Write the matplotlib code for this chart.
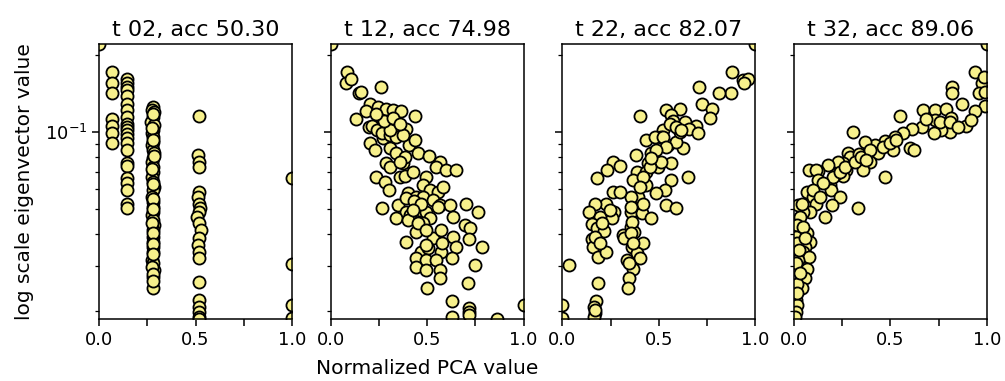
import matplotlib
matplotlib.use("Agg")
import matplotlib.pyplot as plt
from matplotlib.ticker import MultipleLocator, NullFormatter

titles = ["t 02, acc 50.30", "t 12, acc 74.98", "t 22, acc 82.07", "t 32, acc 89.06"]

# step 02: eigenvector entries fall into a handful of PCA columns
x_t02 = ([0.0]
         + [0.066] * 7
         + [0.143] * 22
         + [0.279, 0.275, 0.283, 0.279, 0.272, 0.284, 0.279, 0.276, 0.282, 0.279,
            0.274, 0.279, 0.284, 0.279, 0.277, 0.281, 0.279, 0.273, 0.279, 0.283,
            0.279, 0.276, 0.279, 0.282, 0.279, 0.274, 0.279, 0.284, 0.279, 0.278,
            0.279, 0.281, 0.279, 0.275, 0.279, 0.283, 0.279, 0.279,
            0.281, 0.277, 0.279, 0.283, 0.275, 0.279, 0.281, 0.279, 0.276, 0.279,
            0.282, 0.279, 0.277, 0.279, 0.280]
         + [0.517, 0.515, 0.517, 0.52, 0.517, 0.512, 0.517, 0.525, 0.517, 0.51,
            0.517, 0.53, 0.517, 0.515, 0.517, 0.517, 0.517, 0.52, 0.517, 0.517,
            0.517, 0.517]
         + [1.0] * 4)
y_t02 = ([0.221]
         + [0.172, 0.156, 0.142, 0.113, 0.1055, 0.0994, 0.0903]
         + [0.162, 0.155, 0.150, 0.146, 0.139, 0.129, 0.122, 0.115, 0.108, 0.105,
            0.102, 0.0982, 0.0945, 0.0903, 0.0851, 0.0754, 0.0737, 0.0659, 0.0630,
            0.0593, 0.0526, 0.0503]
         + [0.1256, 0.122, 0.120, 0.115, 0.1097, 0.1065, 0.102, 0.0988, 0.0959, 0.0917,
            0.0890, 0.0851, 0.0826, 0.0789, 0.0766, 0.0732, 0.0700, 0.0669, 0.0640, 0.0612,
            0.0593, 0.0559, 0.0534, 0.0511, 0.0488, 0.0474, 0.0453, 0.0433, 0.0414, 0.0390,
            0.0373, 0.0357, 0.0340, 0.0316, 0.0307, 0.0289, 0.0272, 0.0246,
            0.118, 0.104, 0.0935, 0.0808, 0.0716, 0.0626, 0.0546, 0.0499, 0.0443, 0.0402,
            0.0365, 0.0333, 0.0298, 0.0280, 0.0262]
         + [0.1155, 0.0813, 0.0766, 0.0732, 0.0585, 0.0559, 0.0526, 0.0503, 0.0488, 0.0467,
            0.0440, 0.0414, 0.0384, 0.0362, 0.0340, 0.0321, 0.0260, 0.0221, 0.0208, 0.0198,
            0.0190, 0.0186]
         + [0.0659, 0.0304, 0.0211, 0.0187])

# step 12: negative trend
x_t12 = [0.0, 0.085, 0.078, 0.104, 0.259, 0.147, 0.159, 0.202, 0.181, 0.133,
         0.245, 0.288, 0.323, 0.366, 0.439, 0.197, 0.254, 0.314, 0.349, 0.392,
         0.202, 0.228, 0.271, 0.306, 0.340, 0.406, 0.435, 0.453, 0.509, 0.565,
         0.547, 0.599, 0.651, 0.288, 0.306, 0.375, 0.358, 0.383, 0.427, 0.237,
         0.280, 0.302, 0.496, 0.478, 0.513, 0.556, 0.582, 0.401, 0.444, 0.478,
         0.530, 0.565, 0.617, 0.703, 0.763, 0.268, 0.349, 0.392, 0.409, 0.461,
         0.496, 0.513, 0.556, 0.634, 0.340, 0.401, 0.440, 0.478, 0.530, 0.573,
         0.634, 0.694, 0.720, 0.717, 0.786, 0.389, 0.470, 0.504, 0.573, 0.651,
         0.444, 0.496, 0.547, 0.630, 0.746, 0.444, 0.496, 0.565, 0.565, 0.712,
         0.499, 0.630, 0.630, 0.717, 0.717, 0.717, 0.864, 1.0,
         0.216, 0.240, 0.268, 0.306, 0.337, 0.375, 0.306, 0.275, 0.323, 0.358,
         0.383, 0.358, 0.392, 0.430, 0.470, 0.427, 0.453, 0.493, 0.579, 0.496,
         0.237]
y_t12 = [0.221, 0.172, 0.156, 0.162, 0.150, 0.142, 0.144, 0.129, 0.121, 0.113,
         0.125, 0.123, 0.122, 0.121, 0.116, 0.105, 0.106, 0.111, 0.100, 0.103,
         0.0903, 0.0851, 0.0945, 0.0864, 0.0826, 0.0889, 0.0930, 0.0830, 0.0808, 0.0766,
         0.0732, 0.0711, 0.0711, 0.0754, 0.0732, 0.0754, 0.0669, 0.0675, 0.0700, 0.0669,
         0.0640, 0.0593, 0.0669, 0.0620, 0.0593, 0.0585, 0.0612, 0.0576, 0.0559, 0.0559,
         0.0543, 0.0518, 0.0518, 0.0523, 0.0488, 0.0503, 0.0518, 0.0488, 0.0474, 0.0496,
         0.0488, 0.0460, 0.0511, 0.0467, 0.0460, 0.0453, 0.0408, 0.0440, 0.0384, 0.0414,
         0.0390, 0.0433, 0.0421, 0.0381, 0.0357, 0.0373, 0.0340, 0.0352, 0.0340, 0.0357,
         0.0321, 0.0316, 0.0316, 0.0323, 0.0303, 0.0298, 0.0289, 0.0289, 0.0268, 0.0258,
         0.0246, 0.0218, 0.0190, 0.0205, 0.0199, 0.0193, 0.0186, 0.0211,
         0.106, 0.102, 0.0988, 0.0973, 0.0953, 0.0973, 0.102, 0.111, 0.114, 0.108,
         0.0796, 0.0766, 0.0551, 0.0540, 0.0526, 0.0496, 0.0440, 0.0414, 0.0367, 0.0362,
         0.118]

# step 22: positive trend with a lower branch
x_t22 = [1.0, 0.878, 0.935, 0.960, 0.943, 0.875, 0.814, 0.711, 0.723, 0.777,
         0.768, 0.540, 0.612, 0.565, 0.574, 0.634, 0.694, 0.656, 0.701, 0.625,
         0.522, 0.514, 0.548, 0.591, 0.608, 0.402, 0.436, 0.479, 0.462, 0.381,
         0.565, 0.497, 0.445, 0.385, 0.433, 0.436, 0.368, 0.565, 0.531, 0.651,
         0.485, 0.540, 0.591, 0.393, 0.354, 0.402, 0.354, 0.414, 0.462, 0.264,
         0.234, 0.299, 0.179, 0.264, 0.299, 0.227, 0.170, 0.136, 0.268, 0.196,
         0.256, 0.153, 0.179, 0.216, 0.153, 0.157, 0.187, 0.227, 0.313, 0.321,
         0.354, 0.371, 0.359, 0.416, 0.333, 0.385, 0.402, 0.368, 0.347, 0.342,
         0.033, 0.184, 0.175, 0.162, 0.170, 0.165, 0.0, 0.0,
         0.557, 0.591, 0.617, 0.522, 0.540, 0.488, 0.514, 0.454, 0.462, 0.419,
         0.402, 0.419, 0.354, 0.359, 0.354, 0.368, 0.347, 0.247, 0.204, 0.170,
         0.196, 0.170]
y_t22 = [0.221, 0.172, 0.160, 0.162, 0.156, 0.142, 0.142, 0.150, 0.129, 0.123,
         0.114, 0.122, 0.123, 0.117, 0.111, 0.110, 0.106, 0.103, 0.0988, 0.0864,
         0.102, 0.0959, 0.0889, 0.0917, 0.100, 0.116, 0.0931, 0.0959, 0.0826, 0.0813,
         0.0754, 0.0732, 0.0754, 0.0700, 0.0700, 0.0620, 0.0648, 0.0648, 0.0593, 0.0669,
         0.0576, 0.0518, 0.0503, 0.0559, 0.0559, 0.0503, 0.0488, 0.0481, 0.0463, 0.0767,
         0.0711, 0.0740, 0.0659, 0.0585, 0.0585, 0.0526, 0.0523, 0.0488, 0.0488, 0.0467,
         0.0460, 0.0437, 0.0421, 0.0412, 0.0381, 0.0357, 0.0324, 0.0340, 0.0396, 0.0384,
         0.0427, 0.0408, 0.0357, 0.0369, 0.0316, 0.0337, 0.0322, 0.0291, 0.0268, 0.0246,
         0.0303, 0.0258, 0.0219, 0.0207, 0.0197, 0.0190, 0.0211, 0.0187,
         0.108, 0.105, 0.102, 0.0959, 0.0876, 0.0851, 0.0766, 0.0732, 0.0789, 0.0669,
         0.0612, 0.0526, 0.0511, 0.0447, 0.0402, 0.0367, 0.0307, 0.0496, 0.0440, 0.0390,
         0.0367, 0.0202]

# step 32: steep rise near zero, then a smooth climb
x_t32 = [1.0, 0.936, 0.976, 0.984, 0.959, 0.988, 0.988, 0.940, 0.821, 0.821,
         0.872, 0.669, 0.729, 0.786, 0.729, 0.815, 0.824, 0.893, 0.919, 0.807,
         0.764, 0.726, 0.666, 0.614, 0.548, 0.566, 0.522, 0.514, 0.471, 0.600,
         0.621, 0.419, 0.436, 0.367, 0.393, 0.307, 0.281, 0.290, 0.338, 0.359,
         0.471, 0.255, 0.229, 0.272, 0.255, 0.217, 0.178, 0.126, 0.079, 0.117,
         0.126, 0.186, 0.190, 0.238, 0.195, 0.160, 0.333, 0.066, 0.097, 0.117,
         0.083, 0.048, 0.022, 0.031, 0.040, 0.069, 0.083, 0.057, 0.045, 0.079,
         0.022, 0.066, 0.057, 0.040, 0.014, 0.010, 0.017, 0.010, 0.007, 0.014,
         0.010, 0.014, 0.010,
         0.203, 0.238, 0.264, 0.316, 0.350, 0.393, 0.376, 0.462, 0.497, 0.531,
         0.686, 0.755, 0.807, 0.850, 0.152, 0.100, 0.134, 0.040, 0.048, 0.057,
         0.028, 0.034, 0.014]
y_t32 = [0.221, 0.172, 0.156, 0.164, 0.142, 0.144, 0.127, 0.121, 0.150, 0.142,
         0.129, 0.122, 0.122, 0.123, 0.112, 0.114, 0.106, 0.106, 0.112, 0.100,
         0.102, 0.0994, 0.105, 0.103, 0.116, 0.0994, 0.0959, 0.0851, 0.0925, 0.0870,
         0.0851, 0.0889, 0.0826, 0.0917, 0.0767, 0.100, 0.0830, 0.0801, 0.0820, 0.0711,
         0.0666, 0.0754, 0.0767, 0.0711, 0.0675, 0.0689, 0.0743, 0.0707, 0.0711, 0.0711,
         0.0651, 0.0620, 0.0593, 0.0559, 0.0518, 0.0464, 0.0503, 0.0585, 0.0556, 0.0523,
         0.0488, 0.0488, 0.0518, 0.0467, 0.0408, 0.0405, 0.0372, 0.0357, 0.0340, 0.0324,
         0.0316, 0.0291, 0.0268, 0.0246, 0.0256, 0.0220, 0.0211, 0.0199, 0.0190, 0.0434,
         0.0390, 0.0367, 0.0307,
         0.0669, 0.0700, 0.0732, 0.0767, 0.0801, 0.0851, 0.0776, 0.0877, 0.0903, 0.0931,
         0.113, 0.110, 0.110, 0.105, 0.0630, 0.0593, 0.0559, 0.0526, 0.0427, 0.0384,
         0.0346, 0.0281, 0.0235]

xs = [x_t02, x_t12, x_t22, x_t32]
ys = [y_t02, y_t12, y_t22, y_t32]

y_lo = min(min(y) for y in ys)
y_hi = max(max(y) for y in ys)

fig, axes = plt.subplots(1, 4, figsize=(10.05, 3.81), dpi=100, sharey=True)
fig.subplots_adjust(left=0.0985, right=0.982, top=0.8845, bottom=0.1627, wspace=0.2)

for ax, x, y, title in zip(axes, xs, ys, titles):
    ax.scatter(x, y, s=76, c="#F7F08C", edgecolors="black", linewidths=1.3, zorder=2)
    ax.set_yscale("log")
    ax.set_xlim(0, 1)
    ax.set_ylim(y_lo, y_hi)
    ax.xaxis.set_major_locator(MultipleLocator(0.5))
    ax.xaxis.set_minor_locator(MultipleLocator(0.25))
    ax.tick_params(which="major", length=5, width=1.1)
    ax.tick_params(axis="x", which="minor", length=5, width=1.1)
    ax.tick_params(axis="y", which="minor", length=2.9, width=0.9)
    ax.tick_params(labelsize=13)
    for sp in ax.spines.values():
        sp.set_linewidth(1.1)
    ax.set_title(title, fontsize=16)

axes[0].yaxis.set_minor_formatter(NullFormatter())
axes[0].set_ylabel("log scale eigenvector value", fontsize=14.5, labelpad=8)
axes[1].set_xlabel("Normalized PCA value", fontsize=14.5, labelpad=7)

plt.savefig("out.png")
